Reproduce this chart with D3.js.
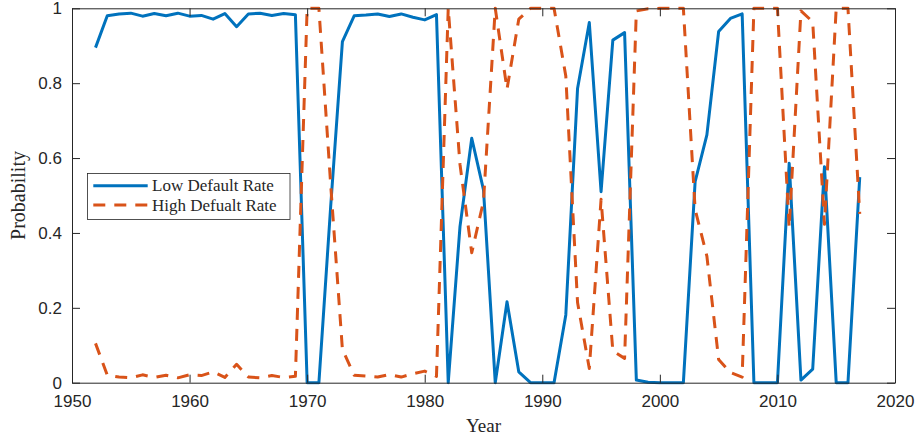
<!DOCTYPE html>
<html>
<head>
<meta charset="utf-8">
<script src="https://cdn.jsdelivr.net/npm/d3@7"></script>
<style>
  html, body { margin: 0; padding: 0; background: #fff; }
  svg { display: block; }
</style>
</head>
<body>
<div id="chart"></div>
<script>
// ---- data ----
const years = [1952,1953,1954,1955,1956,1957,1958,1959,1960,1961,1962,1963,1964,1965,1966,1967,1968,1969,
  1970,1971,1972,1973,1974,1975,1976,1977,1978,1979,1980,1981,1982,1983,1984,1985,1986,1987,1988,1989,
  1990,1991,1992,1993,1994,1995,1996,1997,1998,1999,2000,2001,2002,2003,2004,2005,2006,2007,2008,2009,
  2010,2011,2012,2013,2014,2015,2016,2017];
const lowDefault = [0.895,0.980,0.985,0.987,0.979,0.986,0.980,0.987,0.979,0.981,0.971,0.986,0.951,0.985,0.987,0.981,0.986,0.983,
  0.000,0.000,0.470,0.911,0.980,0.982,0.985,0.978,0.985,0.976,0.969,0.983,0.000,0.417,0.653,0.515,0.000,0.216,0.029,0.000,
  0.000,0.000,0.181,0.786,0.962,0.510,0.915,0.935,0.007,0.001,0.000,0.000,0.000,0.537,0.662,0.938,0.973,0.985,0.000,0.000,
  0.000,0.586,0.007,0.036,0.577,0.000,0.000,0.549];
const highDefault = [0.105,0.020,0.015,0.013,0.021,0.014,0.020,0.013,0.021,0.019,0.029,0.014,0.049,0.015,0.013,0.019,0.014,0.017,
  1.000,1.000,0.530,0.089,0.020,0.018,0.015,0.022,0.015,0.024,0.031,0.017,1.000,0.583,0.347,0.485,1.000,0.784,0.971,1.000,
  1.000,1.000,0.819,0.214,0.038,0.490,0.085,0.065,0.993,0.999,1.000,1.000,1.000,0.463,0.338,0.062,0.027,0.015,1.000,1.000,
  1.000,0.414,0.993,0.964,0.423,1.000,1.000,0.451];
const xTicks = [1950,1960,1970,1980,1990,2000,2010,2020];
const yTicks = [0,0.2,0.4,0.6,0.8,1];
const yTickLabels = ["0","0.2","0.4","0.6","0.8","1"];
const seriesNames = ["Low Default Rate","High Defualt Rate"];
const xTitle = "Year";
const yTitle = "Probability";

// ---- layout ----
const W = 917, H = 440;
const L = 72, R = 895, T = 8.3, B = 382.7;
const axisColor = "#262626";
const blue = "#0072BD", orange = "#D95319";
const sansFont = "'Liberation Sans', Arial, Helvetica, sans-serif";
const serifFont = "'Liberation Serif', 'Times New Roman', serif";

const svg = d3.select("#chart").append("svg")
  .attr("width", W).attr("height", H);

const x = d3.scaleLinear().domain([1950, 2020]).range([L, R]);
const y = d3.scaleLinear().domain([0, 1]).range([B, T]);

svg.append("rect").attr("x", L).attr("y", T).attr("width", R - L).attr("height", B - T)
  .attr("fill", "#fff");

svg.append("clipPath").attr("id", "plotclip")
  .append("rect").attr("x", L).attr("y", T - 2).attr("width", R - L).attr("height", B - T + 4);

// lines
const pts = (vals) => years.map((yr, i) => [yr, vals[i]]);
const line = d3.line().x(d => x(d[0])).y(d => y(d[1]));

const plotG = svg.append("g").attr("clip-path", "url(#plotclip)");
plotG.append("path").datum(pts(lowDefault))
  .attr("d", line).attr("fill", "none").attr("stroke", blue)
  .attr("stroke-width", 3).attr("stroke-linejoin", "round");
plotG.append("path").datum(pts(highDefault))
  .attr("d", line).attr("fill", "none").attr("stroke", orange)
  .attr("stroke-width", 3).attr("stroke-dasharray", "12,9").attr("stroke-linejoin", "round");

// axes
const tickLen = 8;
const gx = svg.append("g").attr("transform", `translate(0,${B})`)
  .call(d3.axisBottom(x).tickValues(xTicks).tickFormat(d3.format("d")).tickSizeInner(-tickLen).tickSizeOuter(0).tickPadding(12));
const gxTop = svg.append("g").attr("transform", `translate(0,${T})`)
  .call(d3.axisTop(x).tickValues(xTicks).tickFormat("").tickSizeInner(-tickLen).tickSizeOuter(0));
const gy = svg.append("g").attr("transform", `translate(${L},0)`)
  .call(d3.axisLeft(y).tickValues(yTicks).tickFormat((d, i) => yTickLabels[i]).tickSizeInner(-tickLen).tickSizeOuter(0).tickPadding(10));
const gyRight = svg.append("g").attr("transform", `translate(${R},0)`)
  .call(d3.axisRight(y).tickValues(yTicks).tickFormat("").tickSizeInner(-tickLen).tickSizeOuter(0));

[gx, gxTop, gy, gyRight].forEach(g => {
  g.select(".domain").attr("stroke", axisColor).attr("stroke-width", 1);
  g.selectAll(".tick line").attr("stroke", axisColor).attr("stroke-width", 1);
  g.selectAll(".tick text").attr("fill", axisColor)
    .style("font-family", sansFont).style("font-size", "17px");
});

// axis titles
svg.append("text").attr("x", (L + R) / 2).attr("y", 432)
  .attr("text-anchor", "middle").attr("fill", axisColor)
  .style("font-family", serifFont).style("font-size", "19px").text(xTitle);
svg.append("text").attr("transform", `translate(25,${(T + B) / 2}) rotate(-90)`)
  .attr("text-anchor", "middle").attr("fill", axisColor)
  .style("font-family", serifFont).style("font-size", "20px").text(yTitle);

// legend
const lg = svg.append("g");
lg.append("rect").attr("x", 87.5).attr("y", 173.5).attr("width", 202.5).attr("height", 46)
  .attr("fill", "#fff").attr("stroke", axisColor).attr("stroke-width", 0.8);
const legendItems = [
  { name: seriesNames[0], color: blue, dash: null, yy: 185.7 },
  { name: seriesNames[1], color: orange, dash: "12,9", yy: 205 }
];
legendItems.forEach(it => {
  lg.append("line").attr("x1", 93.3).attr("x2", 147.7).attr("y1", it.yy).attr("y2", it.yy)
    .attr("stroke", it.color).attr("stroke-width", 3)
    .attr("stroke-dasharray", it.dash);
  lg.append("text").attr("x", 152).attr("y", it.yy + 5.5)
    .attr("fill", axisColor)
    .style("font-family", serifFont).style("font-size", "17px").text(it.name);
});
</script>
</body>
</html>
